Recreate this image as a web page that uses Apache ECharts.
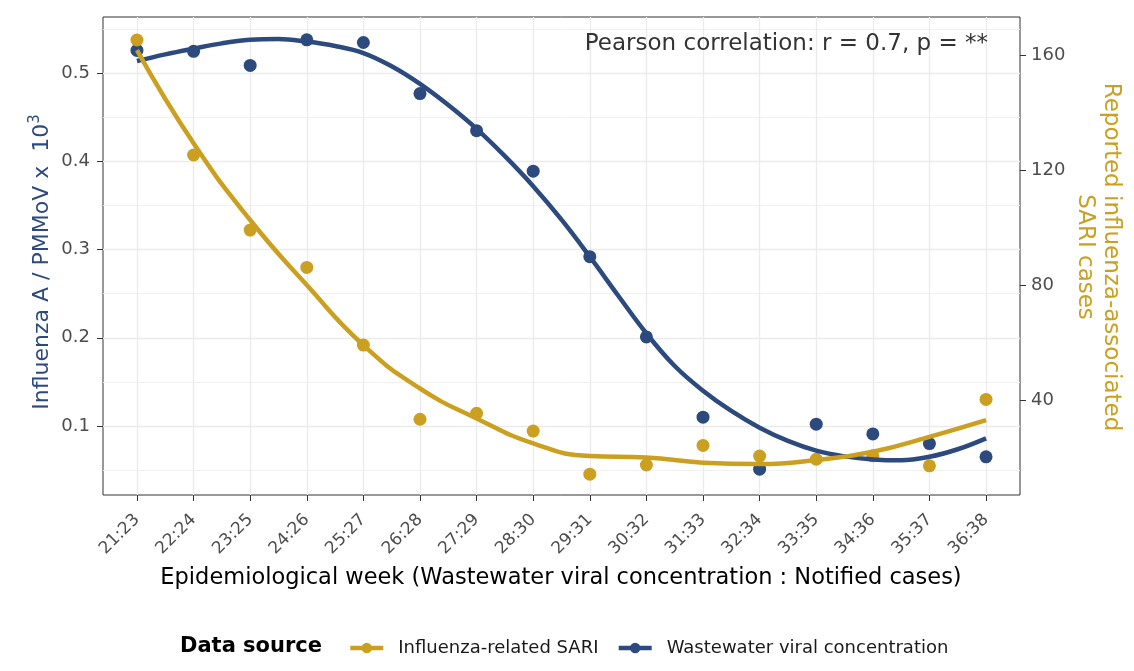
<!DOCTYPE html>
<html><head><meta charset="utf-8">
<script src="https://cdn.jsdelivr.net/npm/echarts@6/dist/echarts.min.js"></script>
<style>html,body{margin:0;padding:0;background:#fff}#c{width:1134px;height:671px}</style>
</head><body><div id="c"></div>
<script>
const weeks = ['21:23','22:24','23:25','24:26','25:27','26:28','27:29','28:30','29:31','30:32','31:33','32:34','33:35','34:36','35:37','36:38'];
const wastewaterPoints = [0.526,0.525,0.509,0.538,0.535,0.477,0.435,0.389,0.292,0.201,0.110,0.051,0.102,0.091,0.080,0.065];
const sariPoints = [165.2,125.2,99.1,86.1,59.1,33.3,35.4,29.2,14.2,17.4,24.2,20.5,19.4,20.6,17.1,40.2];
// fitted (loess) curve of wastewater, read at every half week position
const wastewaterFitPos = [0,0.5,1,1.5,2,2.5,3,3.5,4,4.5,5,5.5,6,6.5,7,7.5,8,8.5,9,9.5,10,10.5,11,11.5,12,12.5,13,13.5,14,14.5,15];
const wastewaterFit = [0.514,0.5215,0.528,0.534,0.538,0.539,0.536,0.531,0.523,0.508,0.488,0.464,0.437,0.406,0.372,0.334,0.292,0.248,0.205,0.168,0.140,0.117,0.098,0.083,0.072,0.0655,0.062,0.061,0.065,0.0736,0.086];
// fitted (loess) curve of SARI cases, read at every week
const sariFit = [161.7,129.3,102.6,80.0,59.1,44.0,33.6,24.9,20.5,20.0,18.2,17.7,19.1,22.0,27.2,33.0];
const leftTicks = [0.1,0.2,0.3,0.4,0.5];
const leftMinor = [0.05,0.15,0.25,0.35,0.45,0.55];
const rightTicks = [40,80,120,160];

const BLUE = '#2D4A7F', GOLD = '#CBA020';
const FONT = 'DejaVu Sans';
const xIdx = weeks.map((w, i) => i);
const pair = arr => arr.map((v, i) => [i, v]);

const chart = echarts.init(document.getElementById('c'), null, {renderer: 'canvas'});
chart.setOption({
  animation: false,
  backgroundColor: '#fff',
  grid: {left: 103, right: 114, top: 17, bottom: 176, show: true, borderColor: '#333', borderWidth: 1, backgroundColor: 'transparent'},
  xAxis: {
    type: 'value', min: -0.6, max: 15.6,
    axisLine: {show: false, onZero: false},
    axisTick: {show: true, inside: false, customValues: xIdx, length: 6, lineStyle: {color: '#333', width: 1}},
    axisLabel: {customValues: xIdx, formatter: v => weeks[Math.round(v)], rotate: 45, margin: 22, fontSize: 17, color: '#4D4D4D', fontFamily: FONT},
    splitLine: {show: true, lineStyle: {color: '#EBEBEB', width: 1.3}}
  },
  yAxis: [
    {
      type: 'value', position: 'left', min: 0.0217, max: 0.5639,
      axisLine: {show: false, onZero: false},
      axisTick: {show: true, inside: false, customValues: leftTicks, length: 6, lineStyle: {color: '#333', width: 1}},
      axisLabel: {customValues: leftTicks, formatter: v => v.toFixed(1), margin: 13, fontSize: 18, color: '#4D4D4D', fontFamily: FONT},
      splitLine: {show: true, lineStyle: {color: '#EBEBEB', width: 1.3}}
    },
    {
      type: 'value', position: 'right', min: 6.96, max: 173.2,
      axisLine: {show: false, onZero: false},
      axisTick: {show: true, inside: false, customValues: rightTicks, length: 6, lineStyle: {color: '#333', width: 1}},
      axisLabel: {customValues: rightTicks, margin: 11, fontSize: 18, color: '#4D4D4D', fontFamily: FONT},
      splitLine: {show: false}
    },
    {
      type: 'value', position: 'left', min: 0.0217, max: 0.5639,
      axisLine: {show: false, onZero: false},
      axisTick: {show: false, customValues: leftMinor},
      axisLabel: {show: false, customValues: leftMinor},
      splitLine: {show: true, lineStyle: {color: '#EFEFEF', width: 0.9}}
    }
  ],
  legend: {
    data: ['Influenza-related SARI', 'Wastewater viral concentration'],
    left: 343, top: 634, itemWidth: 33, itemHeight: 13, itemGap: 18,
    lineStyle: {width: 4.5},
    textStyle: {fontSize: 18, color: '#1A1A1A', fontFamily: FONT, padding: [0, 0, 0, 10]}
  },
  graphic: [
    {type: 'text', x: 988, y: 44, z: 10, style: {text: 'Pearson correlation: r = 0.7, p = **', fill: '#333', font: '23px "DejaVu Sans"', align: 'right', verticalAlign: 'middle'}},
    {type: 'text', x: 42, y: 262, rotation: Math.PI / 2, style: {text: 'Influenza A / PMMoV x  10{sup|3}', fill: BLUE, font: '22px "DejaVu Sans"', align: 'center', verticalAlign: 'middle',
      rich: {sup: {fontSize: 15, fontFamily: FONT, fill: BLUE, padding: [0, 0, 13, 0]}}}},
    {type: 'text', x: 1098, y: 257, rotation: -Math.PI / 2, style: {text: 'Reported influenza-associated\nSARI cases', fill: GOLD, font: '23px "DejaVu Sans"', lineHeight: 26, align: 'center', verticalAlign: 'middle'}},
    {type: 'text', x: 561, y: 578, style: {text: 'Epidemiological week (Wastewater viral concentration : Notified cases)', fill: '#000', font: '22.5px "DejaVu Sans"', align: 'center', verticalAlign: 'middle'}},
    {type: 'text', x: 180, y: 647, style: {text: 'Data source', fill: '#000', font: 'bold 21px "DejaVu Sans"', align: 'left', verticalAlign: 'middle'}}
  ],
  series: [
    {name: 'ww-points', type: 'scatter', xAxisIndex: 0, yAxisIndex: 0, data: pair(wastewaterPoints), symbolSize: 13, itemStyle: {color: BLUE, opacity: 1}, z: 2, silent: true},
    {name: 'sari-points', type: 'scatter', xAxisIndex: 0, yAxisIndex: 1, data: pair(sariPoints), symbolSize: 13, itemStyle: {color: GOLD, opacity: 1}, z: 3, silent: true},
    {name: 'Wastewater viral concentration', type: 'line', xAxisIndex: 0, yAxisIndex: 0, data: wastewaterFit.map((v, i) => [wastewaterFitPos[i], v]), smooth: 0.4, symbol: 'circle', showSymbol: false, lineStyle: {color: BLUE, width: 4.5}, itemStyle: {color: BLUE}, z: 4},
    {name: 'Influenza-related SARI', type: 'line', xAxisIndex: 0, yAxisIndex: 1, data: pair(sariFit), smooth: 0.5, symbol: 'circle', showSymbol: false, lineStyle: {color: GOLD, width: 4.5}, itemStyle: {color: GOLD}, z: 5}
  ]
});
</script></body></html>
